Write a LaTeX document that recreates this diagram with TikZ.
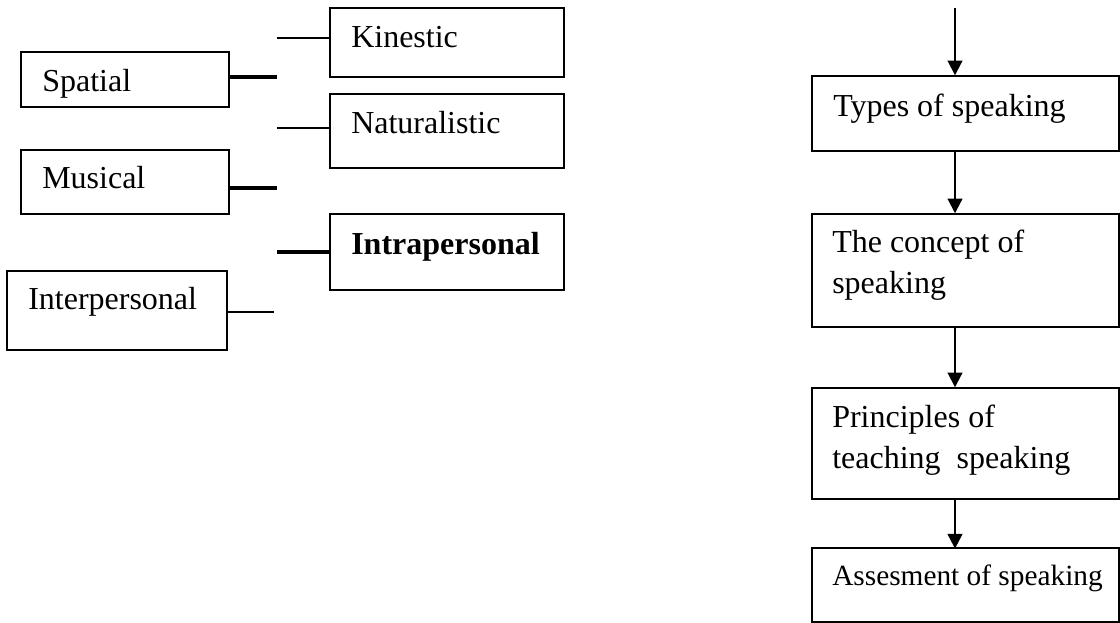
\documentclass[tikz,border=0pt]{standalone}
\usepackage{fontspec}
\setmainfont{Liberation Serif}
\usetikzlibrary{fit,arrows.meta}
\begin{document}
\begin{tikzpicture}[x=0.75pt,y=-0.75pt,
  box/.style={draw=black, line width=1.1pt, inner sep=0pt, rectangle},
  lbl/.style={inner sep=0pt, anchor=base west, font=\fontsize{24}{30}\selectfont},
  smalllbl/.style={inner sep=0pt, anchor=base west, font=\fontsize{22}{27}\selectfont},
  thinline/.style={line width=1.2pt},
  thickline/.style={line width=2.4pt},
  arr/.style={line width=1.6pt, -{Triangle[length=11pt,width=11pt]}}]
\useasboundingbox (0,0) rectangle (1120,623);
% left column boxes
\node[box, fit={(330,8) (564,77)}] (kin) {};
\node[lbl] (kint) at (351,48) {Kinestic};
\node[box, fit={(21,52) (229,107)}] (spa) {};
\node[lbl] (spat) at (42,92) {Spatial};
\node[box, fit={(330,94) (564,168)}] (nat) {};
\node[lbl] (natt) at (351,134) {Naturalistic};
\node[box, fit={(21,150) (229,214)}] (mus) {};
\node[lbl] (must) at (42,189) {Musical};
\node[box, fit={(330,214) (564,290)}] (intra) {};
\node[lbl, font=\fontsize{24}{30}\selectfont\bfseries] (intrat) at (351,255) {Intrapersonal};
\node[box, fit={(7,271) (227,350)}] (inter) {};
\node[lbl] (intert) at (28,310) {Interpersonal};
% free ends
\coordinate (kinend) at (277,38);
\coordinate (spaend) at (277,77);
\coordinate (natend) at (277,128);
\coordinate (musend) at (277,188);
\coordinate (intraend) at (277,252);
\coordinate (interend) at (274,312);
\draw[thinline] (kinend) -- (kinend -| kin.west);
\draw[thickline] (spa.east |- spaend) -- (spaend);
\draw[thinline] (natend) -- (natend -| nat.west);
\draw[thickline] (mus.east |- musend) -- (musend);
\draw[thickline] (intraend) -- (intraend -| intra.west);
\draw[thinline] (inter.east |- interend) -- (interend);
% right column
\coordinate (ax) at (955,0);
\coordinate (topstart) at (955,8);
\node[box, fit={(812,76) (1119,151)}] (types) {};
\node[lbl] (typest) at (833,117) {Types of speaking};
\node[box, fit={(812,214) (1119,327)}] (concept) {};
\node[lbl] (conceptt1) at (832,253) {The concept of};
\node[lbl] (conceptt2) at (832,294) {speaking};
\node[box, fit={(812,388) (1119,499)}] (princ) {};
\node[lbl] (princt1) at (832,427) {Principles of};
\node[lbl] (princt2) at (832,468) {teaching\ \ speaking};
\node[box, fit={(812,548) (1119,622)}] (assess) {};
\node[smalllbl] (assesst) at (832,585) {Assesment of speaking};
\draw[arr] (topstart) -- (types.north -| ax);
\draw[arr] (types.south -| ax) -- (concept.north -| ax);
\draw[arr] (concept.south -| ax) -- (princ.north -| ax);
\draw[arr] (princ.south -| ax) -- ([yshift=-1pt]assess.north -| ax);
\end{tikzpicture}
\end{document}
